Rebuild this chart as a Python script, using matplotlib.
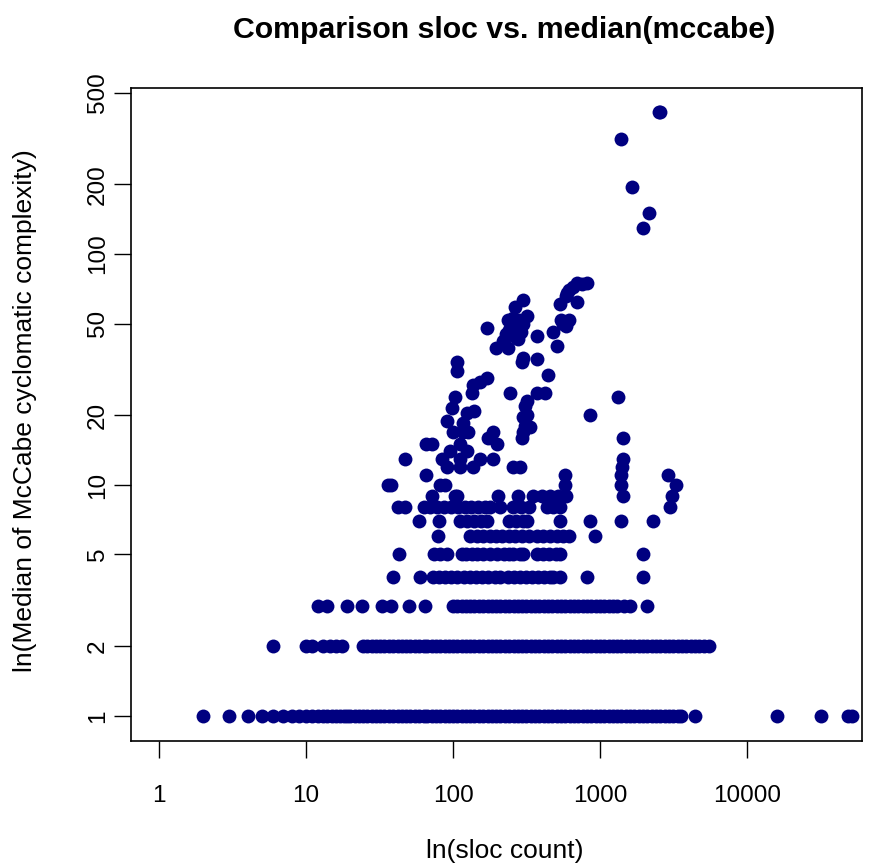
import matplotlib.pyplot as plt
import numpy as np

plt.rcParams['font.family'] = ['Liberation Sans', 'DejaVu Sans']

# sloc counts for files whose median mccabe is a whole number 1..12
sloc_m1 = [2, 3, 4, 5, 6, 7, 8, 9, 10, 11, 12, 13, 14, 15, 16, 17, 18, 19,
           20, 21.5, 23, 24.5, 26, 28, 30, 32, 34, 36.5, 39, 42, 45, 48, 51, 55, 59, 63, 67, 72,
           77, 82, 88, 94, 100, 107, 115, 123, 131, 140, 150, 160, 172, 184, 197, 210, 225, 241,
           258, 276, 295, 316, 338, 362, 387, 414, 443, 474, 507, 543, 581, 622, 665, 712, 762,
           815, 872, 933, 998, 1068, 1143, 1223, 1309, 1400, 1498, 1603, 1715, 1835, 1964, 2101,
           2248, 2406, 2574, 2754, 2947, 3153, 3374, 3550,
           4400, 16000, 32000, 49000, 52000]
sloc_m2 = [6, 10, 11, 13, 14.5, 16, 17.5,
           24.5, 26, 28, 30, 32, 34, 36.5, 39, 42, 45, 48, 51, 55, 59, 63, 67, 72, 77, 82, 88, 94,
           100, 107, 115, 123, 131, 140, 150, 160, 172, 184, 197, 210, 225, 241, 258, 276, 295,
           316, 338, 362, 387, 414, 443, 474, 507, 543, 581, 622, 665, 712, 762, 815, 872, 933,
           998, 1068, 1143, 1223, 1309, 1400, 1498, 1603, 1715, 1835, 1964, 2101, 2248, 2406,
           2574, 2754, 2947, 3153, 3374, 3610, 3863, 4133, 4423, 4732, 5064, 5500]
sloc_m3 = [12, 14, 19, 24, 33, 38, 50, 64,
           100, 107, 115, 123, 131, 140, 150, 160, 172, 184, 197, 210, 225, 241, 258, 276, 295,
           316, 338, 362, 387, 414, 443, 474, 507, 543, 581, 622, 665, 712, 762, 815, 872, 933,
           998, 1068, 1143, 1223, 1309, 1450, 1600, 2100]
sloc_m4 = [39, 60, 73, 80, 88, 97, 107, 118, 130, 143, 158, 174, 192, 210, 235, 258, 284, 312, 343,
           378, 415, 455, 480, 535, 815, 1970]
sloc_m5 = [43, 74, 82, 91, 115, 122, 135, 145, 160, 178, 200, 222, 240, 255, 285, 300, 370, 410,
           450, 500, 535, 1950]
sloc_m6 = [79, 130, 145, 160, 178, 196, 215, 240, 265, 295, 330, 370, 410, 455, 510, 560, 620, 930]
sloc_m7 = [59, 80, 111, 125, 140, 155, 170, 240, 270, 300, 317, 535, 860, 1400, 2300]
sloc_m8 = [42, 47, 63, 70, 78, 87, 97, 108, 120, 133, 148, 165, 178, 210, 255, 290, 330, 435, 480,
           535, 3000]
sloc_m9 = [72, 103, 106, 203, 277, 350, 400, 460, 520, 590, 1440, 3100]
sloc_m10 = [36, 38, 81, 88, 580, 1400, 3300]
sloc_m11 = [66, 580, 1400, 2900]
sloc_m12 = [91, 111, 137, 255, 285, 1420]

# everything above 12
sloc_hi = [47, 84, 111, 152, 187, 1440, 95, 124, 66, 72, 111, 200, 173, 295, 1440,
           100, 117, 126, 188, 300, 335, 117, 310, 91, 300, 124, 320, 860, 140, 98, 310,
           320, 103, 1330, 134, 245, 370, 420, 137, 152, 170, 440, 106, 106, 295, 300, 370,
           195, 235, 510, 370, 480, 170,
           220, 230, 240, 250, 260, 270, 280, 290, 300, 235, 255, 275,
           320, 265, 300, 535, 560, 540, 590, 620,
           590, 620, 650, 700, 750, 810, 700, 600,
           1400, 1650, 2150, 1950, 2500, 2560]
mccabe_hi = [13, 13, 13, 13, 13, 13, 14, 14, 15, 15, 15, 15, 16, 16, 16,
             17, 17, 17, 17, 17, 17.8, 18.5, 18, 19, 19.7, 20.5, 20, 20, 21, 21.6, 22,
             23, 24, 24, 25, 25, 25, 25, 27, 28, 29, 30, 31, 34, 34, 35.5, 35,
             39, 39, 40, 44, 46, 48,
             42, 45, 47, 50, 44, 48, 52, 46, 50, 52, 53, 43,
             54, 59, 63, 61, 50, 52, 49, 52,
             66, 70, 72, 75, 74, 75, 62, 68,
             315, 195, 150, 130, 412, 412]

groups = [sloc_m1, sloc_m2, sloc_m3, sloc_m4, sloc_m5, sloc_m6, sloc_m7, sloc_m8,
          sloc_m9, sloc_m10, sloc_m11, sloc_m12]
sloc = np.concatenate([np.array(g, float) for g in groups] + [np.array(sloc_hi, float)])
mccabe = np.concatenate([np.full(len(g), i + 1.0) for i, g in enumerate(groups)]
                        + [np.array(mccabe_hi, float)])

fig = plt.figure(figsize=(8.7, 8.67), dpi=100)
ax = fig.add_axes([131 / 870, 126 / 867, 731 / 870, 653 / 867])
ax.scatter(sloc, mccabe, s=100, color='#000080', linewidths=0, zorder=3)
ax.set_xscale('log')
ax.set_yscale('log')
ax.set_xlim(0.645, 60560)
ax.set_ylim(0.779, 523)

xt = [1, 10, 100, 1000, 10000]
yt = [1, 2, 5, 10, 20, 50, 100, 200, 500]
ax.set_xticks(xt)
ax.set_xticklabels([str(v) for v in xt])
ax.set_yticks(yt)
ax.set_yticklabels([str(v) for v in yt], rotation=90, va='center')
ax.minorticks_off()
ax.tick_params(axis='both', length=12, width=1, labelsize=17.5, color='black')
ax.tick_params(axis='x', pad=20)
ax.tick_params(axis='y', pad=4)
for sp in ax.spines.values():
    sp.set_linewidth(1.2)

fig.text(504 / 870, 1 - 30 / 867, 'Comparison sloc vs. median(mccabe)',
         ha='center', va='center', fontsize=21.8, fontweight='bold')
fig.text(505 / 870, 1 - 851 / 867, 'ln(sloc count)', ha='center', va='center', fontsize=19)
fig.text(25 / 870, 1 - 411 / 867, 'ln(Median of McCabe cyclomatic complexity)',
         ha='center', va='center', rotation=90, fontsize=19)

fig.savefig('out.png', dpi=100)
